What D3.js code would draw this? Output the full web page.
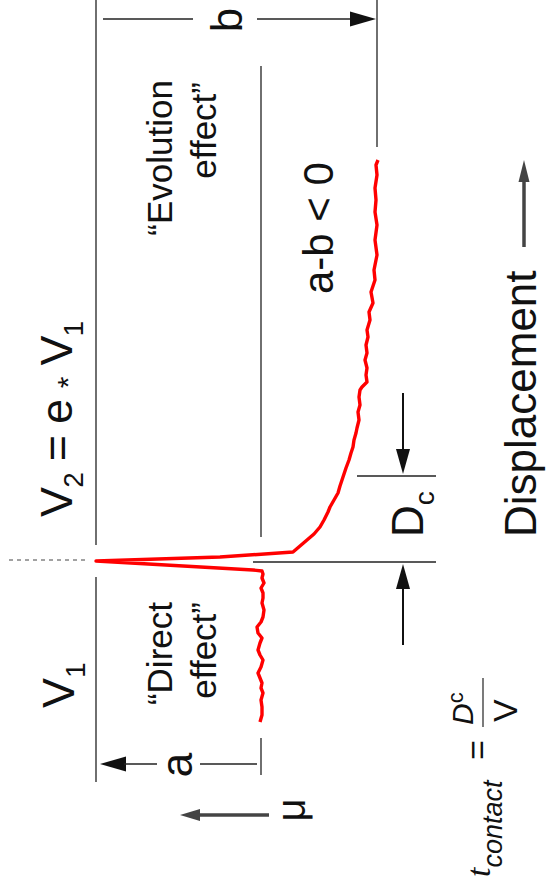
<!DOCTYPE html>
<html>
	<head>
		<meta charset="utf-8">
		<title>Rate and state friction - velocity step</title>
		<script src="https://d3js.org/d3.v7.min.js"></script>
		<style type="text/css">
			body { margin: 0; background: #fff; }
			text { font-family: Arial, "Liberation Sans", sans-serif; fill: #111; }
		</style>
	</head>
	<body>
		<script type="text/javascript">

			var svgWidth = 546;
			var svgHeight = 882;

			// displacement (arbitrary units, 0 = velocity step) and friction
			var curveDisp = [
				-162, -155, -147, -140, -133, -128, -123, -118, -113, -107,
				-100, -95, -90, -83, -78, -73, -67, -62, -57, -50,
				-43, -38, -33, -28, -23, -18, -14, -11, -10, -1,
				3, 8, 14, 20, 26, 33, 40, 48, 53, 60,
				67, 74, 83, 92, 100, 107, 113, 120, 127, 132,
				140, 148, 155, 163, 170, 173, 178, 185, 192, 200,
				207, 215, 223, 230, 240, 248, 257, 268, 280, 290,
				305, 320, 335, 348, 360, 372, 385, 395, 400
			];
			var curveMu = [
				0.6001, 0.5999, 0.5999, 0.6000, 0.5998, 0.6000, 0.5999, 0.6001, 0.6003, 0.6000,
				0.5998, 0.6001, 0.6003, 0.6001, 0.5999, 0.6003, 0.6004, 0.6000, 0.5998, 0.5997,
				0.5999, 0.5998, 0.5998, 0.6000, 0.5997, 0.5999, 0.5998, 0.5999, 0.6008, 0.6165,
				0.6041, 0.5968, 0.5961, 0.5954, 0.5947, 0.5941, 0.5937, 0.5933, 0.5931, 0.5927,
				0.5923, 0.5921, 0.5918, 0.5915, 0.5912, 0.5910, 0.5908, 0.5907, 0.5905, 0.5904,
				0.5902, 0.5903, 0.5901, 0.5902, 0.5901, 0.5899, 0.5894, 0.5895, 0.5894, 0.5896,
				0.5894, 0.5895, 0.5893, 0.5894, 0.5891, 0.5892, 0.5888, 0.5890, 0.5886, 0.5887,
				0.5884, 0.5886, 0.5884, 0.5886, 0.5885, 0.5886, 0.5884, 0.5885, 0.5883
			];

			// reference levels
			var muPeak = 0.6165;
			var muSS1 = 0.6000;
			var muSS2 = 0.5884;
			var stepDisp = 0;
			var dcStart = -2;
			var dcEnd = 84;

			// the figure is drawn turned a quarter turn: displacement runs up, friction runs left
			var yScale = d3.scaleLinear()
				.domain([0, 400])
				.range([560, 160]);

			var xScale = d3.scaleLinear()
				.domain([0.6261, 0.5261])
				.range([0, 1000]);

			var svg = d3.select('body')
				.append('svg')
				.attr('width', svgWidth)
				.attr('height', svgHeight);

			svg.append('rect')
				.attr('width', svgWidth)
				.attr('height', svgHeight)
				.attr('fill', '#fff');

			function seg(x1, y1, x2, y2, col, w) {
				return svg.append('line')
					.attr('x1', x1).attr('y1', y1)
					.attr('x2', x2).attr('y2', y2)
					.attr('stroke', col || '#222')
					.attr('stroke-width', w || 1.3);
			}

			function head(tx, ty, dir, len, half, col) {
				// dir: 'up', 'down', 'left', 'right'
				var p;
				if (dir == 'right') p = [[tx, ty], [tx - len, ty - half], [tx - len, ty + half]];
				if (dir == 'left') p = [[tx, ty], [tx + len, ty - half], [tx + len, ty + half]];
				if (dir == 'up') p = [[tx, ty], [tx - half, ty + len], [tx + half, ty + len]];
				if (dir == 'down') p = [[tx, ty], [tx - half, ty - len], [tx + half, ty - len]];
				svg.append('path')
					.attr('d', 'M' + p.join('L') + 'Z')
					.attr('fill', col || '#111');
			}

			function vtext(x, y, size, anchor) {
				return svg.append('text')
					.attr('transform', 'translate(' + x + ',' + y + ') rotate(-90)')
					.attr('font-size', size + 'px')
					.attr('text-anchor', anchor || 'start');
			}

			// level lines
			var xPeak = xScale(muPeak), x1 = xScale(muSS1), x2 = xScale(muSS2);
			seg(xPeak, yScale(560), xPeak, yScale(15));
			seg(xPeak, yScale(-17), xPeak, yScale(-222));
			seg(x1, yScale(494), x1, yScale(23));
			seg(x1, yScale(-178), x1, yScale(-215));
			seg(x2, yScale(560), x2, yScale(413));

			// velocity step marker
			seg(xPeak - 87, yScale(stepDisp), xPeak - 10, yScale(stepDisp), '#444', 1)
				.attr('stroke-dasharray', '4,4');

			// Dc lines
			seg(xScale(0.6008), yScale(dcStart), 436, yScale(dcStart));
			seg(xScale(0.5904), yScale(dcEnd), 436, yScale(dcEnd));

			// friction trace
			var pts = curveDisp.map(function(d, i) { return [d, curveMu[i]]; });
			var line = d3.line()
				.x(function(d) { return xScale(d[1]); })
				.y(function(d) { return yScale(d[0]); });

			svg.append('path')
				.datum(pts)
				.attr('d', line)
				.attr('fill', 'none')
				.attr('stroke', '#f00')
				.attr('stroke-width', 3.4)
				.attr('stroke-linejoin', 'round');

			// b bracket
			var yb = 19;
			seg(xPeak + 7, yb, 193, yb);
			seg(257, yb, x2 - 24, yb);
			head(x2 - 1, yb, 'right', 26, 7.5);
			vtext(242, 20, 44, 'middle').text('b');

			// a bracket
			var ya = 764;
			head(xPeak + 4, ya, 'left', 26, 7.5);
			seg(xPeak + 28, ya, 157, ya);
			seg(200, ya, x1 - 4, ya);
			vtext(192, 765, 44, 'middle').text('a');

			// Dc arrows
			var xd = 403;
			seg(xd, 393, xd, yScale(dcEnd) - 25, '#111', 2);
			head(xd, yScale(dcEnd) - 2, 'down', 25, 7);
			seg(xd, 645, xd, yScale(dcStart) + 27, '#111', 2);
			head(xd, yScale(dcStart) + 2, 'up', 25, 7);
			var dc = vtext(423, 537, 44);
			dc.append('tspan').text('D');
			dc.append('tspan').attr('font-size', '28px').attr('dy', 11).text('c');

			// texts
			vtext(172, 80, 35, 'end').text('\u201cEvolution');
			vtext(216, 82, 35, 'end').text('effect\u201d');
			vtext(172, 602, 35, 'end').text('\u201cDirect');
			vtext(216, 602, 35, 'end').text('effect\u201d');
			vtext(333, 294, 42).text('a-b < 0');

			var v2 = vtext(72, 517, 45).attr('letter-spacing', '-0.8px');
			v2.append('tspan').text('V');
			v2.append('tspan').attr('font-size', '28px').attr('dy', 11).text('2');
			v2.append('tspan').attr('dy', -11).text(' = e ');
			v2.append('tspan').attr('font-size', '30px').attr('dy', 6).text('*');
			v2.append('tspan').attr('dy', -6).text(' V');
			v2.append('tspan').attr('font-size', '28px').attr('dy', 11).text('1');

			var v1 = vtext(74, 708, 45);
			v1.append('tspan').text('V');
			v1.append('tspan').attr('font-size', '28px').attr('dy', 11).text('1');

			// mu axis arrow
			seg(269, 815, xPeak + 100, 815, '#444', 3.5);
			head(180, 815, 'left', 20, 6, '#444');
			vtext(305, 810, 40, 'middle').text('\u03bc');

			// displacement axis
			seg(524, 247, 524, 180, '#444', 3.5);
			head(524, 160, 'up', 22, 5.5, '#444');
			vtext(536, 537, 44).text('Displacement');

			// t_contact = Dc / V
			var tc = vtext(490, 877, 34);
			tc.append('tspan').attr('font-family', '"Liberation Serif", serif').attr('font-style', 'italic').text('t');
			tc.append('tspan').attr('font-size', '27px').attr('font-style', 'italic').attr('dy', 12).text('contact');
			vtext(489, 760, 34).text('=');
			seg(483, 727, 483, 678, '#222', 1.2);
			var fr = vtext(473, 725, 30);
			fr.append('tspan').attr('font-style', 'italic').text('D');
			fr.append('tspan').attr('font-size', '22px').attr('dy', -10).text('c');
			vtext(517, 722, 34).text('V');

		</script>
	</body>
</html>
